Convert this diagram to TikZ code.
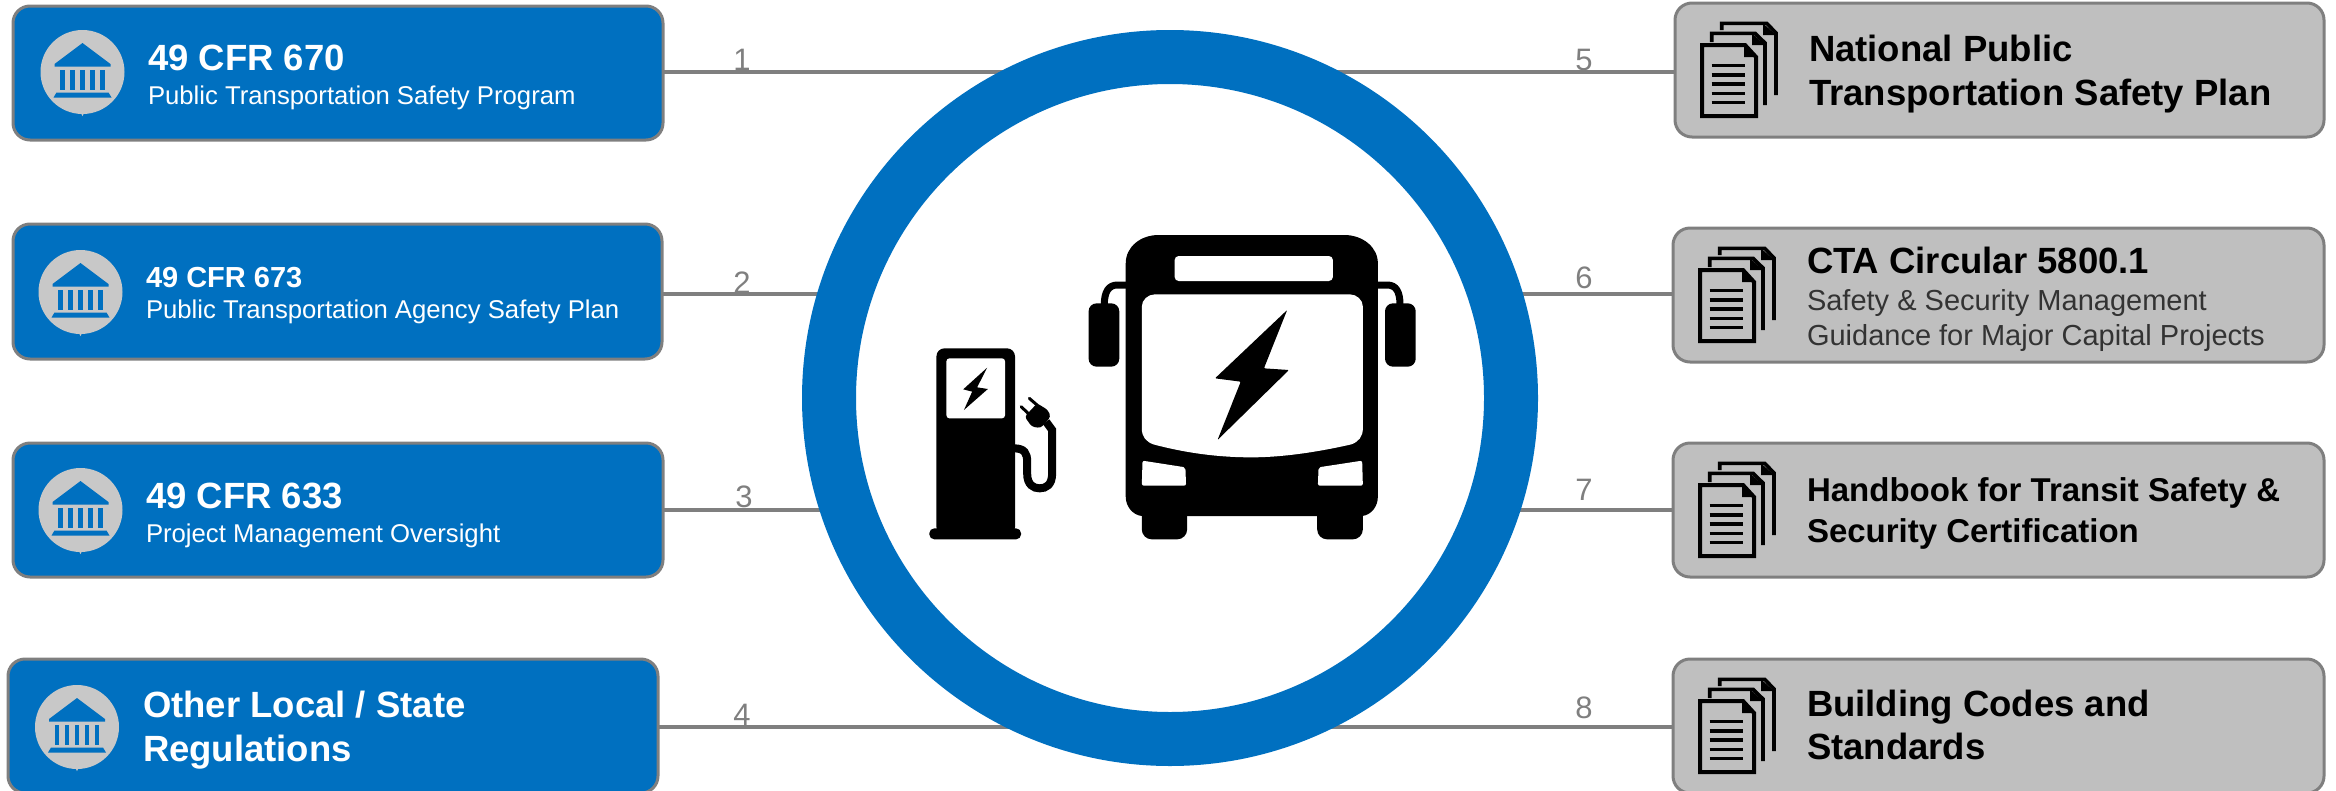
\documentclass[tikz,border=0pt]{standalone}
\usepackage{fontspec}
\setmainfont{Liberation Sans}
\usetikzlibrary{backgrounds}
\definecolor{cblue}{HTML}{0070C0}
\definecolor{cgrayfill}{HTML}{BFBFBF}
\definecolor{cedge}{HTML}{7F7F7F}
\definecolor{cicon}{HTML}{C8C8C8}
\definecolor{csub}{HTML}{333333}
\newcommand{\fs}[1]{\fontsize{#1}{#1}\selectfont}
\tikzset{
  anybox/.style={rectangle,rounded corners=17pt,draw=cedge,line width=3pt,inner sep=0,outer sep=0},
  bluebox/.style={anybox,fill=cblue},
  graybox/.style={anybox,fill=cgrayfill},
  txt/.style={anchor=base west,inner sep=0,outer sep=0},
  bhead/.style={txt,text=white,font=\fs{36.5}\bfseries},
  bsub/.style={txt,text=white,font=\fs{25.7}},
  ghead/.style={txt,text=black,font=\fs{36.5}\bfseries},
  gsub/.style={txt,text=csub,font=\fs{29}},
  numlabel/.style={anchor=base,inner sep=0,outer sep=0,text=cedge,font=\fs{31}},
  link/.style={draw=cedge,line width=4pt},
  bank/.pic={
    \fill[cicon] (0,0) circle[radius=42pt];
    \fill[cblue] (0,-29) -- (28,-8) -- (28,-5.5) -- (-28,-5.5) -- (-28,-8) -- cycle;
    \foreach \cx in {-20,-10,0,10,20}{\fill[cblue] (\cx-2.4,-2) rectangle (\cx+2.4,18);}
    \fill[cblue] (-26,20.5) -- (26,20.5) -- (29,25.5) -- (-29,25.5) -- cycle;
    \fill[cicon] (-1.5,41) -- (1.5,41) -- (0,44) -- cycle;
  },
  docs/.pic={
    \draw[black,line width=3.6pt,line join=miter] (46.7,27) -- (46.7,20.3) -- (91.7,20.3) -- (101,30) -- (101,92);
    \fill[black] (88,20.3) -- (101,32) -- (88,32) -- cycle;
    \draw[black,line width=3.6pt,line join=miter] (36.7,39) -- (36.7,30.3) -- (80,30.3) -- (90,40) -- (90,102);
    \fill[black] (77,30.3) -- (90,42) -- (77,42) -- cycle;
    \draw[black,fill=cgrayfill,line width=4pt,line join=miter] (27,42) -- (70,42) -- (81,54) -- (81,113) -- (27,113) -- cycle;
    \fill[black] (69,42) -- (81,54) -- (69,54) -- cycle;
    \foreach \ly in {62.7,72,81,90.3,99.3}{\draw[black,line width=3.2pt] (36.7,\ly) -- (70,\ly);}
  }
}
\begin{document}
\begin{tikzpicture}[x=1pt,y=-1pt]
\path[use as bounding box] (0,0) rectangle (2336,790);

% hub
\node[circle,minimum size=682pt,inner sep=0,outer sep=0,draw=cblue,line width=54pt,fill=white] (hub) at (1170,398) {};

% boxes
\node[bluebox,minimum width=650pt,minimum height=134pt] (b1) at (338,73) {};
\node[bluebox,minimum width=649pt,minimum height=135pt] (b2) at (337.5,291.5) {};
\node[bluebox,minimum width=650pt,minimum height=134pt] (b3) at (338,510) {};
\node[bluebox,minimum width=650pt,minimum height=134pt] (b4) at (333,726) {};
\node[graybox,minimum width=649pt,minimum height=134pt] (b5) at (1999.5,70) {};
\node[graybox,minimum width=651pt,minimum height=134pt] (b6) at (1998.5,295) {};
\node[graybox,minimum width=651pt,minimum height=134pt] (b7) at (1998.5,510) {};
\node[graybox,minimum width=651pt,minimum height=134pt] (b8) at (1998.5,726) {};

% connectors: each leaves its box at the height the reference shows
\begin{pgfonlayer}{background}
\foreach \b/\dy in {b1/1,b2/-2.5,b3/0,b4/-1,b5/-2,b6/1,b7/0,b8/-1}{
  \draw[link] ([yshift=\dy pt]\b.center) -- ([yshift=\dy pt]\b.center -| hub.center);
}
\end{pgfonlayer}

% numbers
\node[numlabel] (n1) at (742,70) {1};
\node[numlabel] (n2) at (742,293) {2};
\node[numlabel] (n3) at (744,507) {3};
\node[numlabel] (n4) at (742,725) {4};
\node[numlabel] (n5) at (1584,70) {5};
\node[numlabel] (n6) at (1584,288) {6};
\node[numlabel] (n7) at (1584,500) {7};
\node[numlabel] (n8) at (1584,718) {8};

% bank icons
\pic at (82.5,72) {bank};
\pic at (80.5,292) {bank};
\pic at (80.5,510) {bank};
\pic at (77,727) {bank};

% doc icons
\pic at (1675,3) {docs};
\pic at (1673,228) {docs};
\pic at (1673,443) {docs};
\pic at (1673,659) {docs};

% left texts
\node[bhead] (t1a) at (148,70) {49 CFR 670};
\node[bsub] (t1b) at (148,104) {Public Transportation Safety Program};
\node[bhead,font=\fs{29}\bfseries] (t2a) at (146,287) {49 CFR 673};
\node[bsub] (t2b) at (146,318) {Public Transportation Agency Safety Plan};
\node[bhead] (t3a) at (146,508) {49 CFR 633};
\node[bsub] (t3b) at (146,542) {Project Management Oversight};
\node[bhead] (t4a) at (143,717) {Other Local / State};
\node[bhead] (t4b) at (143,761) {Regulations};

% right texts
\node[ghead] (t5a) at (1809,61) {National Public};
\node[ghead] (t5b) at (1809,105) {Transportation Safety Plan};
\node[ghead] (t6a) at (1807,273) {CTA Circular 5800.1};
\node[gsub] (t6b) at (1807,310) {Safety \& Security Management};
\node[gsub] (t6c) at (1807,345) {Guidance for Major Capital Projects};
\node[ghead,font=\fs{33}\bfseries] (t7a) at (1807,501) {Handbook for Transit Safety \&};
\node[ghead,font=\fs{33}\bfseries] (t7b) at (1807,542) {Security Certification};
\node[ghead] (t8a) at (1807,716) {Building Codes and};
\node[ghead] (t8b) at (1807,759) {Standards};

% bus and charger, in the reference's own crop coordinates
\begin{scope}[shift={(880,200)},xscale=0.35714,yscale=0.33333]
  % mirrors
  \draw[black,line width=7pt] (690,255) -- (665,255) .. controls (640,255) and (628,275) .. (628,315);
  \draw[black,line width=7pt] (1392,255) -- (1420,255) .. controls (1445,255) and (1456,275) .. (1456,315);
  \fill[black,rounded corners=8pt] (584,310) rectangle (670,500);
  \fill[black,rounded corners=8pt] (1414,310) rectangle (1500,500);
  % body
  \fill[black] (688,190) .. controls (688,140) and (730,105) .. (780,105) -- (1300,105) .. controls (1350,105) and (1394,140) .. (1394,190) -- (1394,890) .. controls (1394,920) and (1375,945) .. (1350,948) -- (733,948) .. controls (708,945) and (688,920) .. (688,890) -- cycle;
  \fill[black,rounded corners=10pt] (733,900) rectangle (860,1018);
  \fill[black,rounded corners=10pt] (1224,900) rectangle (1352,1018);
  % openings
  \fill[white,rounded corners=4pt] (825,168) rectangle (1268,243);
  \fill[white] (733,320) .. controls (733,300) and (750,283) .. (770,283) -- (1315,283) .. controls (1335,283) and (1352,300) .. (1352,320) -- (1352,685) .. controls (1352,710) and (1340,725) .. (1320,733) .. controls (1230,755) and (1130,772) .. (1040,772) .. controls (950,772) and (860,760) .. (765,733) .. controls (745,725) and (733,710) .. (733,685) -- cycle;
  \fill[white,rounded corners=2pt] (735,782) -- (855,802) -- (857,857) -- (733,857) -- cycle;
  \fill[white,rounded corners=2pt] (1350,782) -- (1228,802) -- (1226,857) -- (1352,857) -- cycle;
  \fill[black,rounded corners=1pt] (1140,330) -- (1075,505) -- (1145,510) -- (945,720) -- (1010,545) -- (938,535) -- cycle;
  % charger
  \fill[black,rounded corners=8pt] (158,445) rectangle (378,1005);
  \fill[black,rounded corners=5pt] (138,985) rectangle (395,1018);
  \fill[white,rounded corners=3pt] (186,475) rectangle (350,655);
  \fill[black] (300,503) -- (272,562) -- (302,567) -- (235,630) -- (258,575) -- (233,568) -- cycle;
  \draw[black,line width=8pt] (375,745) .. controls (405,745) and (412,760) .. (412,785) -- (412,820) .. controls (412,855) and (430,865) .. (447,865) .. controls (465,865) and (482,855) .. (482,820) -- (482,690) -- (465,665);
  \fill[black,rounded corners=3pt] (405,650) -- (440,610) -- (470,630) -- (478,650) -- (450,684) -- (425,680) -- cycle;
  \draw[black,line width=3pt,line cap=round] (418,595) -- (445,620);
  \draw[black,line width=3pt,line cap=round] (395,620) -- (420,645);
\end{scope}
\end{tikzpicture}
\end{document}
